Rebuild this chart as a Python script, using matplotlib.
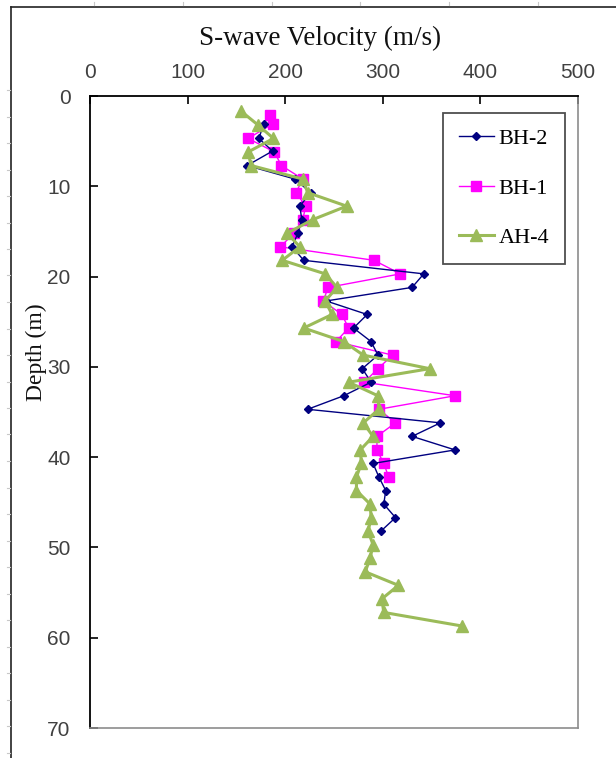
import matplotlib
matplotlib.use("Agg")
import matplotlib.pyplot as plt
from matplotlib.lines import Line2D

# S-wave velocity profiles (m/s) vs depth (m)
bh2_depth = [3.1, 4.7, 6.1, 7.7, 9.2, 10.7, 12.2, 13.7, 15.2, 16.7, 18.2, 19.7, 21.2,
             22.7, 24.2, 25.7, 27.2, 28.7, 30.2, 31.7, 33.2, 34.7, 36.2, 37.7, 39.2,
             40.7, 42.2, 43.7, 45.2, 46.7, 48.2]
bh2_vel = [178, 173, 187, 161, 210, 226, 215, 217, 213, 207, 219, 342, 330,
           242, 284, 270, 288, 295, 279, 288, 260, 223, 359, 330, 374,
           290, 296, 303, 301, 313, 298]

bh1_depth = [2.1, 3.1, 4.7, 6.2, 7.7, 9.2, 10.7, 12.2, 13.7, 15.2, 16.7, 18.2, 19.7,
             21.2, 22.7, 24.2, 25.7, 27.2, 28.7, 30.2, 31.7, 33.2, 34.7, 36.2, 37.7,
             39.2, 40.7, 42.2]
bh1_vel = [184, 187, 162, 189, 196, 218, 211, 221, 218, 209, 195, 291, 318,
           244, 239, 258, 265, 252, 310, 295, 281, 374, 296, 313, 294,
           294, 301, 306]

ah4_depth = [1.7, 3.2, 4.7, 6.2, 7.7, 9.2, 10.7, 12.2, 13.7, 15.2, 16.7, 18.2, 19.7,
             21.2, 22.7, 24.2, 25.7, 27.2, 28.7, 30.2, 31.7, 33.2, 34.7, 36.2, 37.7,
             39.2, 40.7, 42.2, 43.7, 45.2, 46.7, 48.2, 49.7, 51.2, 52.7, 54.2, 55.7,
             57.2, 58.7]
ah4_vel = [155, 172, 188, 162, 165, 218, 223, 263, 228, 202, 215, 197, 241,
           253, 241, 248, 219, 260, 280, 348, 265, 295, 296, 280, 290,
           277, 278, 273, 273, 287, 288, 285, 290, 287, 282, 316, 299,
           301, 381]

x_ticks = [0, 100, 200, 300, 400, 500]
y_ticks = [0, 10, 20, 30, 40, 50, 60, 70]

W, H = 616, 758
fig = plt.figure(figsize=(W / 100, H / 100), dpi=100)
ax = fig.add_axes([90 / W, 1 - 728 / H, (578 - 90) / W, (728 - 96) / H])

ax.plot(bh2_vel, bh2_depth, color='#000080', lw=1.0, marker='D', ms=4.5,
        mec='#000080', label='BH-2', zorder=3)
ax.plot(bh1_vel, bh1_depth, color='#FF00FF', lw=1.0, marker='s', ms=6.5,
        mec='#FF00FF', label='BH-1', zorder=2)
ax.plot(ah4_vel, ah4_depth, color='#9BBB59', lw=2.2, marker='^', ms=8.5,
        mec='#9BBB59', label='AH-4', zorder=4)

ax.set_xlim(0, 500)
ax.set_ylim(70, 0)
ax.xaxis.tick_top()
ax.set_xticks(x_ticks)
ax.set_yticks(y_ticks)
ax.tick_params(axis='both', direction='in', length=6, width=1.2, color='black',
               labelsize=15, labelcolor='#404040')
ax.tick_params(axis='x', pad=10)
ax.tick_params(axis='y', pad=14)
for lab in ax.get_xticklabels() + ax.get_yticklabels():
    lab.set_family('Liberation Sans')

ax.spines['left'].set_color('black')
ax.spines['top'].set_color('black')
ax.spines['left'].set_linewidth(1.3)
ax.spines['top'].set_linewidth(1.3)
ax.spines['right'].set_color('#8c8c8c')
ax.spines['bottom'].set_color('#8c8c8c')
ax.spines['right'].set_linewidth(1.2)
ax.spines['bottom'].set_linewidth(1.2)

fig.text(320 / W, 1 - 38 / H, 'S-wave Velocity (m/s)', family='Liberation Serif',
         fontsize=19.5, ha='center', va='center', color='#111111')
fig.text(36 / W, 1 - 352 / H, 'Depth (m)', family='Liberation Serif',
         fontsize=17, rotation=90, ha='center', va='center', color='#111111')

leg = ax.legend(loc='upper left', bbox_to_anchor=(443 / W, 1 - 113 / H),
                bbox_transform=fig.transFigure, prop={'family': 'Liberation Serif', 'size': 16},
                frameon=True, fancybox=False, shadow=False, borderpad=0.7,
                labelspacing=1.3, handlelength=1.6, handletextpad=0.2,
                borderaxespad=0)
leg.get_frame().set_edgecolor('#222222')
leg.get_frame().set_linewidth(1.3)

# outer chart frame of the screenshot
fx = 11 / W
fy = 1 - 7 / H
fig.add_artist(Line2D([fx, fx], [0, fy], transform=fig.transFigure, color='#222222', lw=1.2))
fig.add_artist(Line2D([fx, 1], [fy, fy], transform=fig.transFigure, color='#222222', lw=1.2))
# faint ruler marks
for k in range(28):
    yy = 1 - (90 + 26.5 * k) / H
    if yy > 0:
        fig.add_artist(Line2D([7 / W, 10 / W], [yy, yy], transform=fig.transFigure,
                              color='#c8c8c8', lw=0.8))
for k in range(6):
    xx = (94 + 88.8 * k) / W
    fig.add_artist(Line2D([xx, xx], [1 - 2 / H, 1 - 5 / H], transform=fig.transFigure,
                          color='#c8c8c8', lw=0.8))

fig.savefig('out.png', dpi=100)
